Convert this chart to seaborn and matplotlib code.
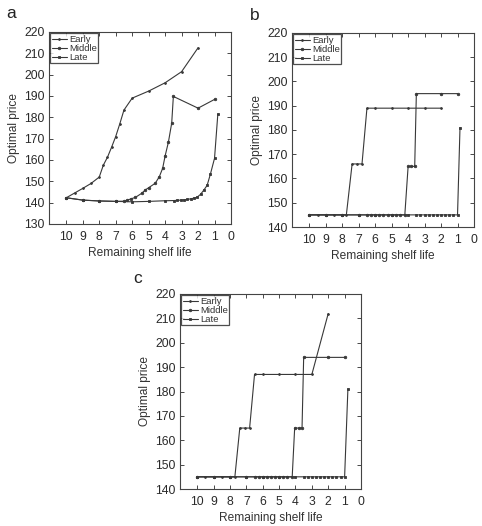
import numpy as np
import pandas as pd
import matplotlib
matplotlib.use("Agg")
import matplotlib.pyplot as plt
import seaborn as sns

# ---------------- data ----------------
# Panel a
early_a_x = [10, 9.5, 9, 8.5, 8, 7.75, 7.5, 7.25, 7, 6.75, 6.5, 6, 5, 4, 3, 2]
early_a_y = [142.3, 144.5, 146.7, 149.0, 152.0, 157.6, 161.3, 166.0, 171.0, 177.0, 183.4, 189.0, 192.3, 196.2, 201.4, 212.6]
middle_a_x = [10, 9, 8, 7, 6.5, 6.3, 6.1, 5.8, 5.4, 5.2, 5.0, 4.6, 4.35, 4.15, 4, 3.8, 3.6, 3.5, 2, 1]
middle_a_y = [142.3, 141.2, 140.8, 140.6, 140.7, 141.2, 141.7, 142.5, 144.5, 146.0, 147.0, 149.1, 152.2, 156.1, 161.9, 168.4, 177.3, 189.8, 184.3, 188.4]
late_a_x = [10, 9, 8, 7, 6, 5, 4, 3.45, 3.25, 3.05, 2.85, 2.65, 2.45, 2.25, 2.05, 1.85, 1.65, 1.45, 1.25, 1.0, 0.8]
late_a_y = [142.3, 141.2, 140.8, 140.6, 140.4, 140.6, 140.9, 141.0, 141.1, 141.2, 141.3, 141.5, 141.8, 142.1, 142.6, 143.9, 145.9, 148.1, 153.4, 160.8, 181.5]

# Panel b
early_b_x = [10, 9.5, 9, 8.5, 8, 7.75, 7.4, 7.1, 6.8, 6.5, 6, 5, 4, 3, 2]
early_b_y = [145, 145, 145, 145, 145, 145, 166, 166, 166, 189, 189, 189, 189, 189, 189]
middle_b_x = [10, 9, 8, 7, 6.5, 6.25, 6, 5.75, 5.5, 5.25, 5, 4.75, 4.5, 4.2, 4.0, 3.8, 3.6, 3.5, 2, 1]
middle_b_y = [145, 145, 145, 145, 145, 145, 145, 145, 145, 145, 145, 145, 145, 145, 165, 165, 165, 195, 195, 195]
late_b_x = [10, 9, 8, 7, 6, 5, 4, 3.5, 3.25, 3, 2.75, 2.5, 2.25, 2, 1.75, 1.5, 1.25, 1, 0.85]
late_b_y = [145, 145, 145, 145, 145, 145, 145, 145, 145, 145, 145, 145, 145, 145, 145, 145, 145, 145, 181]

# Panel c
early_c_x = [10, 9.5, 9, 8.5, 8, 7.7, 7.4, 7.1, 6.8, 6.5, 6, 5, 4, 3, 2]
early_c_y = [145, 145, 145, 145, 145, 145, 165, 165, 165, 187, 187, 187, 187, 187, 212]
middle_c_x = [10, 9, 8, 7, 6.5, 6.25, 6, 5.75, 5.5, 5.25, 5, 4.75, 4.5, 4.2, 4.05, 3.8, 3.6, 3.5, 2, 1]
middle_c_y = [145, 145, 145, 145, 145, 145, 145, 145, 145, 145, 145, 145, 145, 145, 165, 165, 165, 194, 194, 194]
late_c_x = [10, 9, 8, 7, 6, 5, 4, 3.5, 3.25, 3, 2.75, 2.5, 2.25, 2, 1.75, 1.5, 1.25, 1, 0.8]
late_c_y = [145, 145, 145, 145, 145, 145, 145, 145, 145, 145, 145, 145, 145, 145, 145, 145, 145, 145, 181]

series_names = ["Early", "Middle", "Late"]
x_ticks = [10, 9, 8, 7, 6, 5, 4, 3, 2, 1, 0]
y_ticks_a = [130, 140, 150, 160, 170, 180, 190, 200, 210, 220]
y_ticks_bc = [140, 150, 160, 170, 180, 190, 200, 210, 220]

panels = {
    "a": ([early_a_x, middle_a_x, late_a_x], [early_a_y, middle_a_y, late_a_y], y_ticks_a),
    "b": ([early_b_x, middle_b_x, late_b_x], [early_b_y, middle_b_y, late_b_y], y_ticks_bc),
    "c": ([early_c_x, middle_c_x, late_c_x], [early_c_y, middle_c_y, late_c_y], y_ticks_bc),
}

# ---------------- style ----------------
sns.set_style("ticks")
plt.rcParams["font.family"] = ["Liberation Sans", "DejaVu Sans"]

W, H = 482, 526
fig = plt.figure(figsize=(W / 100, H / 100), dpi=100)

def rect(l, r, t, b):
    return [l / W, 1 - b / H, (r - l) / W, (b - t) / H]

positions = {
    "a": rect(49, 231, 32, 224),
    "b": rect(292, 474, 33, 227),
    "c": rect(180, 361, 294, 489),
}
letter_pos = {"a": (6, 18), "b": (250, 20), "c": (133, 283)}

line_color = "#383838"
markers = {"Early": ".", "Middle": "o", "Late": "s"}
msizes = {"Early": 2.6, "Middle": 1.8, "Late": 1.9}

for key, (xs, ys, yt) in panels.items():
    ax = fig.add_axes(positions[key])
    frames = []
    for name, xv, yv in zip(series_names, xs, ys):
        frames.append(pd.DataFrame({"x": xv, "y": yv, "s": name}))
    df = pd.concat(frames, ignore_index=True)
    for name in series_names:
        sub = df[df["s"] == name]
        sns.lineplot(data=sub, x="x", y="y", ax=ax, sort=False, estimator=None,
                     color=line_color, linewidth=0.8, marker=markers[name],
                     markersize=msizes[name], markeredgewidth=0.6,
                     markeredgecolor=line_color, markerfacecolor=line_color,
                     label=name)
    ax.set_xlim(11.05, 0)
    ax.set_ylim(yt[0], yt[-1])
    ax.set_xticks(x_ticks)
    ax.set_xticklabels([str(v) for v in x_ticks])
    ax.set_yticks(yt)
    ax.tick_params(direction="in", top=True, right=True, length=3, width=0.6,
                   labelsize=8.8, colors="#2a2a2a", pad=3)
    ax.tick_params(axis="x", pad=5)
    for sp in ax.spines.values():
        sp.set_linewidth(0.8)
        sp.set_color("#444444")
    ax.set_xlabel("Remaining shelf life", fontsize=8.6, color="#333333", labelpad=3)
    ax.set_ylabel("Optimal price", fontsize=8.6, color="#333333", labelpad=3)
    leg = ax.legend(loc="upper left", fontsize=6.8, frameon=True, fancybox=False,
                    borderpad=0.15, labelspacing=0.0, handlelength=1.6,
                    handletextpad=0.2, borderaxespad=0.15)
    leg.get_frame().set_edgecolor("#222222")
    leg.get_frame().set_linewidth(0.9)
    for t in leg.get_texts():
        t.set_color("#333333")
    lx, ly = letter_pos[key]
    fig.text(lx / W, 1 - ly / H, key, fontsize=12.5, color="#222222",
             ha="left", va="baseline")

fig.savefig("out.png", dpi=100)
